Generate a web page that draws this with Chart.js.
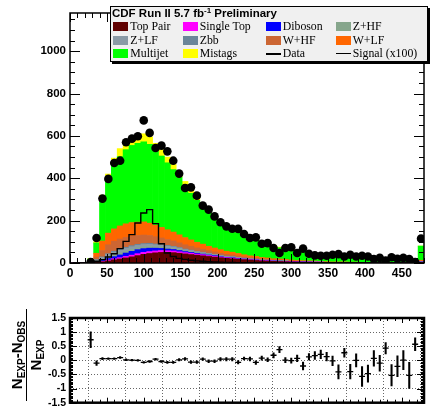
<!DOCTYPE html>
<html>
<head>
<meta charset="utf-8">
<script src="https://cdn.jsdelivr.net/npm/chart.js@4.4.1/dist/chart.umd.min.js"></script>
<style>
  html, body { margin: 0; padding: 0; background: #fff; }
  #wrap { position: relative; width: 431px; height: 413px; overflow: hidden; }
  canvas { position: absolute; left: 0; }
  #cMain { top: 0; }
  #cRatio { top: 290px; }
  #legend {
    position: absolute; left: 110px; top: 6px; width: 316px; height: 54px;
    border: 1px solid #000; background: #f0f0f0; box-shadow: 2px 2px 0 #000;
    font-family: 'Liberation Serif', 'Times New Roman', serif; font-size: 11.8px; color: #000;
  }
  #legend .title {
    position: absolute; left: 1px; top: 0; line-height: 13px; white-space: nowrap;
    font: bold 11.5px 'Liberation Sans', Arial, sans-serif;
  }
  #legend .title sup { font-size: 8px; vertical-align: 4px; line-height: 0; }
  .item { position: absolute; height: 13px; line-height: 13px; white-space: nowrap; }
  .sw { position: absolute; left: 0; top: 2px; width: 15px; height: 9px; }
  .ln { position: absolute; left: 0; width: 15px; background: #000; }
  .lab { position: absolute; left: 17px; top: 0; }
  #ytitle {
    position: absolute; left: -19px; top: 336px; width: 92px; height: 38px;
    transform: rotate(-90deg); transform-origin: 50% 50%;
    font: bold 15px 'Liberation Sans', Arial, sans-serif; color: #000; text-align: center;
  }
  #ytitle .num { line-height: 17px; height: 18px; border-bottom: 1.5px solid #000; white-space: nowrap; }
  #ytitle .den { line-height: 18px; white-space: nowrap; }
  #ytitle sub { font-size: 10px; vertical-align: -3px; line-height: 0; }
</style>
</head>
<body>
<div id="wrap">
  <canvas id="cMain" width="431" height="290"></canvas>
  <canvas id="cRatio" width="431" height="123"></canvas>
  <div id="legend"><div class="title">CDF Run II 5.7 fb<sup>-1</sup> Preliminary</div></div>
  <div id="ytitle">
    <div class="num">N<sub>EXP</sub>-N<sub>OBS</sub></div>
    <div class="den">N<sub>EXP</sub></div>
  </div>
</div>
<script>
// Bin centres (8-unit bins from 0 to 480; the last bin holds the overflow)
const binCenters = [4,12,20,28,36,44,52,60,68,76,84,92,100,108,116,124,132,140,148,156,
  164,172,180,188,196,204,212,220,228,236,244,252,260,268,276,284,292,300,308,316,
  324,332,340,348,356,364,372,380,388,396,404,412,420,428,436,444,452,460,468,476];

// Axis tick values
const xTickValues = [0,50,100,150,200,250,300,350,400,450];
const mainYTicks = [0,200,400,600,800,1000];
const ratioYTicks = [-1.5,-1,-0.5,0,0.5,1,1.5];
const ratioYLabels = ['-1.5','-1','-0.5','0','0.5','1','1.5'];

// Background expectations per bin (events)
const topPair   = [0,0,0,1,3,6,10,15,19,24, 29,35,41,45,48,50,50,49,46,43, 40,37,34,31,28,25,22,20,18,16, 14,12,10,9,8,7,6,5,5,4, 4,3,3,3,2,2,2,2,2,1, 1,1,1,1,1,1,1,1,1,3];
const singleTop = [0,0,0,0,1,2,4,5,6,7, 8,9,9,9,9,9,8,8,7,6, 6,5,5,4,4,3,3,3,2,2, 2,2,1,1,1,1,1,1,1,1, 1,1,1,0,0,0,0,0,0,0, 0,0,0,0,0,0,0,0,0,1];
const diboson   = [0,0,0,1,2,4,7,10,13,16, 18,19,18,16,13,10,8,7,6,5, 4,4,3,3,3,2,2,2,2,1, 1,1,1,1,1,1,1,1,1,1, 0,0,0,0,0,0,0,0,0,0, 0,0,0,0,0,0,0,0,0,1];
const zHF       = [0,0,0,1,3,5,7,8,9,9, 9,8,8,8,7,6,6,5,5,4, 4,3,3,3,2,2,2,2,1,1, 1,1,1,1,1,1,1,0,0,0, 0,0,0,0,0,0,0,0,0,0, 0,0,0,0,0,0,0,0,0,1];
const zLF       = [0,0,0,2,5,9,12,13,13,13, 13,12,11,10,9,8,7,7,6,5, 5,4,4,3,3,3,2,2,2,2, 1,1,1,1,1,1,1,1,0,0, 0,0,0,0,0,0,0,0,0,0, 0,0,0,0,0,0,0,0,0,1];
const zbb       = [0,0,0,1,2,3,4,5,5,5, 5,5,5,5,4,4,4,3,3,3, 2,2,2,2,1,1,1,1,1,1, 1,1,1,1,0,0,0,0,0,0, 0,0,0,0,0,0,0,0,0,0, 0,0,0,0,0,0,0,0,0,0];
const wHF       = [0,0,0,3,12,30,42,47,48,47, 45,42,40,37,34,31,28,25,22,20, 18,16,14,12,11,10,9,8,7,6, 5,5,4,4,3,3,3,2,2,2, 2,2,1,1,1,1,1,1,1,1, 1,1,1,1,1,1,1,1,0,2];
const wLF       = [0,0,0,4,18,45,55,58,62,64, 64,63,62,58,54,50,46,42,38,34, 30,27,24,21,19,17,15,13,12,10, 9,8,7,6,5,5,4,4,3,3, 3,3,2,2,2,2,2,1,1,1, 1,1,1,1,1,1,1,1,1,4];
const multijet  = [0,0,0,6,49,201,254,302,327,350, 364,372,378,372,355,337,316,295,271,247, 220,198,178,159,141,126,114,104,99,93, 85,76,70,64,60,53,50,47,43,41, 38,35,33,31,29,27,25,24,22,21, 18,17,16,15,13,12,11,10,8,67];
const mistags   = [0,0,0,1,5,15,25,32,38,40, 40,40,38,35,32,30,27,24,21,18, 16,14,13,12,10,9,8,7,6,6, 5,5,4,4,4,3,3,3,3,2, 2,2,2,2,2,1,1,1,1,1, 1,1,1,1,1,1,1,1,1,0];

// Signal expectation scaled by 100
const signal100 = [0,0,0,3,8,16,28,44,68,102, 134,189,236,252,186,91,47,31,22,17, 13,10,8,6,5,4,3,3,2,2, 1,1,1,1,1,0,0,0,0,0, 0,0,0,0,0,0,0,0,0,0, 0,0,0,0,0,0,0,0,0,0];

// Observed events
const observed = [null,null,null,5,118,304,397,472,483,570, 587,598,673,614,543,554,527,483,422,354,
  357,318,271,252,220,192,173,162,161,137, 118,121,91,94,71,47,71,74,47,68,
  44,36,34,34,39,42,31,39,31,34, 31,19,24,11,27,20,24,19,5,115];

// (N_exp - N_obs) / N_exp and its uncertainty
const ratio = [null,null,null,0.73,-0.1,0.06,0.06,0.06,0.1,0.02, 0.01,0.0,-0.07,-0.04,0.04,-0.04,-0.07,-0.07,0.02,0.05,
  -0.06,-0.06,0.04,-0.03,-0.03,0.04,0.04,0.04,-0.07,0.06, 0.05,-0.07,0.08,0.02,0.18,0.38,0.01,-0.01,0.07,-0.2,
  0.12,0.17,0.21,0.13,-0.02,-0.41,0.27,-0.4,0.0,-0.57, -0.47,0.07,-0.1,0.43,-0.53,-0.21,0.01,-0.53,0.57,null];
const ratioErr = [null,null,null,0.28,0.08,0.04,0.03,0.03,0.03,0.03, 0.03,0.03,0.03,0.035,0.035,0.035,0.035,0.035,0.04,0.045,
  0.045,0.045,0.045,0.05,0.05,0.06,0.06,0.06,0.06,0.06, 0.07,0.07,0.07,0.07,0.09,0.11,0.09,0.09,0.12,0.14,
  0.12,0.14,0.15,0.15,0.17,0.25,0.16,0.26,0.23,0.35, 0.3,0.28,0.28,0.2,0.38,0.37,0.34,0.46,0.23,null];

const bkgNames  = ['Top Pair','Single Top','Diboson','Z+HF','Z+LF','Zbb','W+HF','W+LF','Multijet','Mistags'];
const bkgColors = ['#600000','#ff00ff','#0000ff','#86a68c','#8a9aa6','#6a8599','#cc6633','#ff6600','#00ff00','#ffff00'];
const bkgValues = [topPair, singleTop, diboson, zHF, zLF, zbb, wHF, wLF, multijet, mistags];

// Legend layout: rows of four entries
const legendEntries = [
  ['box','Top Pair','#600000'],['box','Single Top','#ff00ff'],['box','Diboson','#0000ff'],['box','Z+HF','#86a68c'],
  ['box','Z+LF','#8a9aa6'],['box','Zbb','#6a8599'],['box','W+HF','#cc6633'],['box','W+LF','#ff6600'],
  ['box','Multijet','#00ff00'],['box','Mistags','#ffff00'],['line','Data',2],['line','Signal (x100)',1.2]
];
const legendCols = [2.3, 71.7, 154.7, 224.7];
const legendRows = [12.5, 26.5, 39.8];

const sansBold = "'Liberation Sans', Arial, Helvetica, sans-serif";

(function buildLegend() {
  const box = document.getElementById('legend');
  legendEntries.forEach((e, i) => {
    const it = document.createElement('div');
    it.className = 'item';
    it.style.left = legendCols[i % 4] + 'px';
    it.style.top = legendRows[Math.floor(i / 4)] + 'px';
    const sym = document.createElement('div');
    if (e[0] === 'box') { sym.className = 'sw'; sym.style.background = e[2]; }
    else { sym.className = 'ln'; sym.style.height = e[2] + 'px'; sym.style.top = (7 - e[2] / 2) + 'px'; }
    const lab = document.createElement('span');
    lab.className = 'lab';
    lab.textContent = e[1];
    it.appendChild(sym); it.appendChild(lab);
    box.appendChild(it);
  });
})();

// Frame with inward ticks on all four sides, placed through the chart scales
const frameTicks = {
  id: 'frameTicks',
  afterDatasetsDraw(chart, args, o) {
    const { ctx, chartArea: a, scales: { x, y } } = chart;
    ctx.save();
    ctx.strokeStyle = '#000';
    ctx.lineWidth = 1;
    ctx.beginPath();
    const nx = Math.round((o.xMax - o.xMin) / o.xMinor);
    for (let k = 0; k <= nx; k++) {
      const v = o.xMin + k * o.xMinor;
      const px = Math.round(x.getPixelForValue(v)) + 0.5;
      const major = (k * o.xMinor) % o.xMajor === 0;
      const len = major ? o.xMajorLen : o.xMinorLen;
      ctx.moveTo(px, a.bottom); ctx.lineTo(px, a.bottom - len);
      ctx.moveTo(px, a.top); ctx.lineTo(px, a.top + len);
    }
    const ny = Math.round((o.yMax - o.yMin) / o.yMinor);
    for (let k = 0; k <= ny; k++) {
      const v = o.yMin + k * o.yMinor;
      const py = Math.round(y.getPixelForValue(v)) + 0.5;
      const major = k % o.yMajorEvery === 0;
      const len = major ? o.yMajorLen : o.yMinorLen;
      ctx.moveTo(a.left, py); ctx.lineTo(a.left + len, py);
      ctx.moveTo(a.right, py); ctx.lineTo(a.right - len, py);
    }
    ctx.stroke();
    ctx.lineWidth = o.frameWidth;
    ctx.strokeRect(a.left, a.top, a.right - a.left, a.bottom - a.top);
    ctx.restore();
  }
};

const pts = (vals) => binCenters.map((x, i) => ({ x, y: vals[i] }));
const fixedTicks = (values) => (s) => { s.ticks = values.map((v) => ({ value: v })); };

// ---- Main distribution ----
const mainSets = bkgValues.map((vals, k) => ({
  type: 'bar', label: bkgNames[k], data: pts(vals),
  backgroundColor: bkgColors[k], borderWidth: 0,
  barPercentage: 1, categoryPercentage: 1, stack: 'bkg', order: 3
}));
mainSets.push({
  type: 'line', label: 'Signal (x100)', data: pts(signal100),
  borderColor: '#000', borderWidth: 1.4, stepped: 'middle', pointRadius: 0,
  fill: false, stack: 'sig', order: 2
});
mainSets.push({
  type: 'scatter', label: 'Data',
  data: binCenters.map((x, i) => observed[i] == null ? null : { x, y: observed[i] }).filter(Boolean),
  backgroundColor: '#000', borderWidth: 0, pointRadius: 4.3, stack: 'obs', order: 1
});

new Chart(document.getElementById('cMain'), {
  type: 'bar',
  data: { datasets: mainSets },
  options: {
    responsive: false, animation: false, devicePixelRatio: 1,
    layout: { padding: { top: 13, right: 7, left: 0, bottom: 0 } },
    plugins: {
      legend: { display: false }, tooltip: { enabled: false },
      frameTicks: { xMin: 0, xMax: 480, xMinor: 10, xMajor: 50, xMajorLen: 9, xMinorLen: 5,
        yMin: 0, yMax: 1150, yMinor: 50, yMajorEvery: 4, yMajorLen: 10, yMinorLen: 5, frameWidth: 1.5 }
    },
    scales: {
      x: {
        type: 'linear', min: 0, max: 480, stacked: true, offset: false,
        grid: { display: false, drawTicks: false }, border: { display: false },
        afterBuildTicks: fixedTicks(xTickValues),
        ticks: { autoSkip: false, maxRotation: 0, padding: 3,
          color: '#000', font: { family: sansBold, weight: 'bold', size: 12 },
          callback: (v) => String(v) },
        afterFit: (s) => { s.height = 27; }
      },
      y: {
        type: 'linear', min: 0, max: 1180, stacked: true,
        grid: { display: false, drawTicks: false }, border: { display: false },
        afterBuildTicks: fixedTicks(mainYTicks),
        ticks: { autoSkip: false, padding: 4,
          color: '#000', font: { family: sansBold, weight: 'bold', size: 11.5 },
          callback: (v) => String(v) },
        afterFit: (s) => { s.width = 70; }
      }
    }
  },
  plugins: [frameTicks]
});

// ---- Relative difference panel ----
new Chart(document.getElementById('cRatio'), {
  type: 'bar',
  data: {
    datasets: [
      {
        type: 'bar', label: 'uncertainty',
        data: binCenters.map((x, i) => ratio[i] == null ? null : { x, y: [ratio[i] - ratioErr[i], ratio[i] + ratioErr[i]] }).filter(Boolean),
        backgroundColor: '#000', borderWidth: 0, barThickness: 1.4, order: 2
      },
      {
        type: 'scatter', label: 'ratio',
        data: binCenters.map((x, i) => ratio[i] == null ? null : { x, y: ratio[i] }).filter(Boolean),
        pointStyle: 'line', pointRadius: 3, borderColor: '#000', borderWidth: 1.3, order: 1
      }
    ]
  },
  options: {
    responsive: false, animation: false, devicePixelRatio: 1,
    layout: { padding: { top: 28, right: 7, left: 0, bottom: 5 } },
    plugins: {
      legend: { display: false }, tooltip: { enabled: false },
      frameTicks: { xMin: 0, xMax: 480, xMinor: 10, xMajor: 50, xMajorLen: 5, xMinorLen: 3,
        yMin: -1.5, yMax: 1.5, yMinor: 0.05, yMajorEvery: 10, yMajorLen: 7, yMinorLen: 3, frameWidth: 2.5 }
    },
    scales: {
      x: {
        type: 'linear', min: 0, max: 480, offset: false,
        grid: { display: true, drawTicks: false, color: '#666', lineWidth: 1 },
        border: { display: false, dash: [1, 2] },
        afterBuildTicks: fixedTicks(xTickValues),
        ticks: { display: false },
        afterFit: (s) => { s.height = 0; }
      },
      y: {
        type: 'linear', min: -1.5, max: 1.5,
        grid: { display: true, drawTicks: false, color: '#666', lineWidth: 1 },
        border: { display: false, dash: [1, 2] },
        afterBuildTicks: fixedTicks(ratioYTicks),
        ticks: { autoSkip: false, padding: 4, color: '#000',
          font: { family: sansBold, weight: 'bold', size: 10.5 },
          callback: (v, i) => ratioYLabels[i] },
        afterFit: (s) => { s.width = 70; }
      }
    }
  },
  plugins: [frameTicks]
});
</script>
</body>
</html>
